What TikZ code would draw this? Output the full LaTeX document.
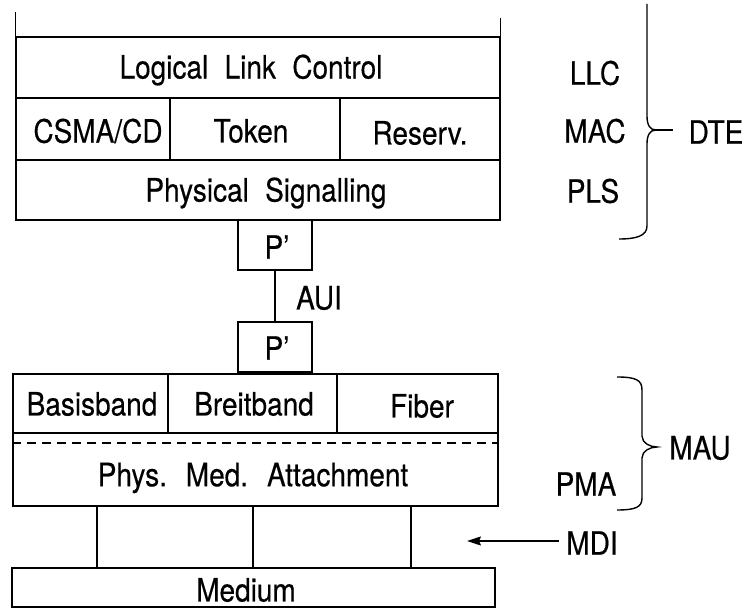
\documentclass[tikz,border=0pt]{standalone}
\usepackage{fontspec}
\setmainfont{TeX Gyre Heros}[WordSpace=2.1,FakeBold=0.4]
\usetikzlibrary{arrows.meta}
\newcommand{\vs}[1]{\scalebox{1}[1.15]{#1}}
\begin{document}
\begin{tikzpicture}[x=1pt,y=-1pt,
  box/.style={draw, line width=1.4pt, rectangle, inner sep=0pt},
  lbl/.style={inner sep=0pt, font=\fontsize{28}{30}\selectfont},
  ln/.style={line width=1.4pt}]
\useasboundingbox (0,0) rectangle (748,612);

% --- DTE stack
\node[box, minimum width=484pt, minimum height=61pt] (llc) at (258,67.5) {};
\node[box, minimum width=154pt, minimum height=62pt] (csma) at (93,129) {};
\node[box, minimum width=170pt, minimum height=62pt] (token) at (255,129) {};
\node[box, minimum width=160pt, minimum height=62pt] (reserv) at (420,129) {};
\node[box, minimum width=484pt, minimum height=60pt] (pls) at (258,190) {};
\node[lbl] (llct) at (251,70) {\vs{Logical Link Control}};
\node[lbl] (csmat) at (98,131) {\vs{CSMA/CD}};
\node[lbl] (tokent) at (251,131) {\vs{Token}};
\node[lbl] (reservt) at (420,133) {\vs{Reserv.}};
\node[lbl] (plst) at (266,193) {\vs{Physical Signalling}};
\coordinate (ltop) at (16,12);
\coordinate (rtop) at (500,18);
\draw[ln] (llc.north west) -- (llc.north west |- ltop);
\draw[ln] (llc.north east) -- (llc.north east |- rtop);

% --- AUI
\node[box, minimum width=74pt, minimum height=50pt] (pu) at (275,245) {};
\node[box, minimum width=74pt, minimum height=50pt] (pl) at (275,347) {};
\node[lbl] (put) at (277,247) {\vs{P'}};
\node[lbl] (plt) at (277,348) {\vs{P'}};
\draw[ln] (pu.south) -- (pl.north);
\node[lbl] (aui) at (319,298) {\vs{AUI}};

% --- MAU stack
\node[box, minimum width=155pt, minimum height=59pt] (basis) at (90.5,403.5) {};
\node[box, minimum width=169pt, minimum height=59pt] (breit) at (252.5,403.5) {};
\node[box, minimum width=161pt, minimum height=59pt] (fiber) at (417.5,403.5) {};
\node[lbl] (basist) at (92,404) {\vs{Basisband}};
\node[lbl] (breitt) at (254,404) {\vs{Breitband}};
\node[lbl] (fibert) at (422,406) {\vs{Fiber}};
\node[box, minimum width=485pt, minimum height=73pt] (pma) at (255.5,469.5) {};
\node[lbl] (pmatext) at (253,478) {\vs{Phys. Med. Attachment}};
\coordinate (dsh) at (0,443);
\draw[line width=1.2pt, dash pattern=on 9pt off 6pt] (pma.west |- dsh) -- (pma.east |- dsh);

\node[box, minimum width=483pt, minimum height=39pt] (medium) at (253.5,587.5) {};
\node[lbl] (mediumt) at (246,590) {\vs{Medium}};
\coordinate (m1) at (97,0);
\coordinate (m2) at (253,0);
\coordinate (m3) at (411,0);
\draw[ln] (pma.south -| m1) -- (medium.north -| m1);
\draw[ln] (pma.south -| m2) -- (medium.north -| m2);
\draw[ln] (pma.south -| m3) -- (medium.north -| m3);

% --- right labels
\node[lbl] (llcl) at (595,73) {\vs{LLC}};
\node[lbl] (macl) at (595,131) {\vs{MAC}};
\node[lbl] (plsl) at (593,191) {\vs{PLS}};
\node[lbl] (pmal) at (586,484) {\vs{PMA}};
\node[lbl] (mdil) at (592,543) {\vs{MDI}};
\node[lbl] (dte) at (716,132) {\vs{DTE}};
\node[lbl] (mau) at (700,448) {\vs{MAU}};

% DTE brace
\draw[ln] (647,4) -- (647,116) .. controls (647,125) and (650,130) .. (656,130)
  .. controls (650,130) and (647,135) .. (647,144) -- (647,226)
  .. controls (647,236) and (636,239) .. (619,239);
\coordinate (dtetip) at (656,130);
\coordinate (dteend) at (673,130);
\draw[ln] (dtetip) -- (dteend);

% MAU brace
\draw[ln] (617,377) .. controls (636,377) and (642,380) .. (642,390) -- (642,436)
  .. controls (642,443) and (650,447) .. (657,447)
  .. controls (650,447) and (642,451) .. (642,458) -- (642,498)
  .. controls (642,507) and (636,510) .. (617,510);

% MDI arrow
\coordinate (mditip) at (467,541);
\draw[ln, shorten <=7pt, -{Stealth[length=14pt,width=9pt,inset=2pt]}] (mdil.west |- mditip) -- (mditip);
\end{tikzpicture}
\end{document}
